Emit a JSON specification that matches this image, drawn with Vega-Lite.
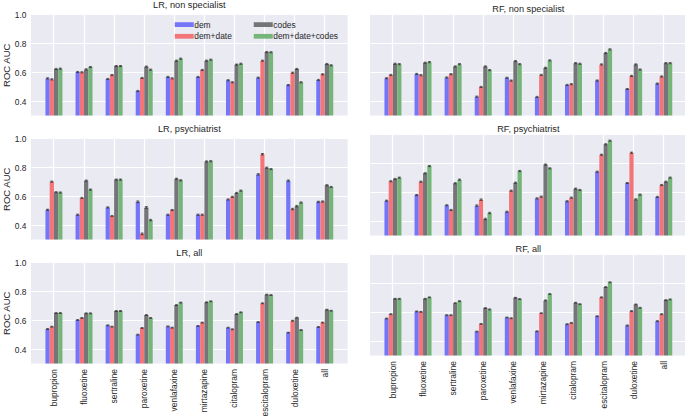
{
  "$schema": "https://vega.github.io/schema/vega-lite/v6.json",
  "padding": {"left": 1, "top": -3, "right": 0, "bottom": 0},
  "datasets": {
    "LR_ns": [
      {"drug":"bupropion","features":"dem","auc":0.556,"err":0.004},{"drug":"bupropion","features":"dem+date","auc":0.549,"err":0.004},{"drug":"bupropion","features":"codes","auc":0.621,"err":0.004},{"drug":"bupropion","features":"dem+date+codes","auc":0.623,"err":0.004},
      {"drug":"fluoxetine","features":"dem","auc":0.600,"err":0.004},{"drug":"fluoxetine","features":"dem+date","auc":0.598,"err":0.004},{"drug":"fluoxetine","features":"codes","auc":0.618,"err":0.004},{"drug":"fluoxetine","features":"dem+date+codes","auc":0.634,"err":0.004},
      {"drug":"sertraline","features":"dem","auc":0.552,"err":0.004},{"drug":"sertraline","features":"dem+date","auc":0.579,"err":0.004},{"drug":"sertraline","features":"codes","auc":0.641,"err":0.004},{"drug":"sertraline","features":"dem+date+codes","auc":0.641,"err":0.004},
      {"drug":"paroxetine","features":"dem","auc":0.469,"err":0.004},{"drug":"paroxetine","features":"dem+date","auc":0.559,"err":0.004},{"drug":"paroxetine","features":"codes","auc":0.637,"err":0.004},{"drug":"paroxetine","features":"dem+date+codes","auc":0.616,"err":0.004},
      {"drug":"venlafaxine","features":"dem","auc":0.566,"err":0.004},{"drug":"venlafaxine","features":"dem+date","auc":0.556,"err":0.004},{"drug":"venlafaxine","features":"codes","auc":0.678,"err":0.004},{"drug":"venlafaxine","features":"dem+date+codes","auc":0.692,"err":0.004},
      {"drug":"mirtazapine","features":"dem","auc":0.566,"err":0.004},{"drug":"mirtazapine","features":"dem+date","auc":0.614,"err":0.004},{"drug":"mirtazapine","features":"codes","auc":0.678,"err":0.004},{"drug":"mirtazapine","features":"dem+date+codes","auc":0.685,"err":0.004},
      {"drug":"citalopram","features":"dem","auc":0.543,"err":0.004},{"drug":"citalopram","features":"dem+date","auc":0.529,"err":0.004},{"drug":"citalopram","features":"codes","auc":0.651,"err":0.004},{"drug":"citalopram","features":"dem+date+codes","auc":0.657,"err":0.004},
      {"drug":"escitalopram","features":"dem","auc":0.561,"err":0.004},{"drug":"escitalopram","features":"dem+date","auc":0.678,"err":0.004},{"drug":"escitalopram","features":"codes","auc":0.738,"err":0.004},{"drug":"escitalopram","features":"dem+date+codes","auc":0.736,"err":0.004},
      {"drug":"duloxetine","features":"dem","auc":0.510,"err":0.004},{"drug":"duloxetine","features":"dem+date","auc":0.595,"err":0.004},{"drug":"duloxetine","features":"codes","auc":0.621,"err":0.004},{"drug":"duloxetine","features":"dem+date+codes","auc":0.529,"err":0.004},
      {"drug":"all","features":"dem","auc":0.545,"err":0.004},{"drug":"all","features":"dem+date","auc":0.584,"err":0.004},{"drug":"all","features":"codes","auc":0.655,"err":0.004},{"drug":"all","features":"dem+date+codes","auc":0.646,"err":0.004}
    ],
    "LR_psy": [
      {"drug":"bupropion","features":"dem","auc":0.505,"err":0.004},{"drug":"bupropion","features":"dem+date","auc":0.699,"err":0.004},{"drug":"bupropion","features":"codes","auc":0.626,"err":0.004},{"drug":"bupropion","features":"dem+date+codes","auc":0.624,"err":0.004},
      {"drug":"fluoxetine","features":"dem","auc":0.471,"err":0.004},{"drug":"fluoxetine","features":"dem+date","auc":0.587,"err":0.004},{"drug":"fluoxetine","features":"codes","auc":0.706,"err":0.004},{"drug":"fluoxetine","features":"dem+date+codes","auc":0.644,"err":0.004},
      {"drug":"sertraline","features":"dem","auc":0.521,"err":0.004},{"drug":"sertraline","features":"dem+date","auc":0.462,"err":0.004},{"drug":"sertraline","features":"codes","auc":0.713,"err":0.004},{"drug":"sertraline","features":"dem+date+codes","auc":0.713,"err":0.004},
      {"drug":"paroxetine","features":"dem","auc":0.560,"err":0.006},{"drug":"paroxetine","features":"dem+date","auc":0.339,"err":0.006},{"drug":"paroxetine","features":"codes","auc":0.521,"err":0.006},{"drug":"paroxetine","features":"dem+date+codes","auc":0.434,"err":0.005},
      {"drug":"venlafaxine","features":"dem","auc":0.471,"err":0.004},{"drug":"venlafaxine","features":"dem+date","auc":0.503,"err":0.004},{"drug":"venlafaxine","features":"codes","auc":0.719,"err":0.004},{"drug":"venlafaxine","features":"dem+date+codes","auc":0.708,"err":0.004},
      {"drug":"mirtazapine","features":"dem","auc":0.471,"err":0.004},{"drug":"mirtazapine","features":"dem+date","auc":0.471,"err":0.004},{"drug":"mirtazapine","features":"codes","auc":0.838,"err":0.004},{"drug":"mirtazapine","features":"dem+date+codes","auc":0.840,"err":0.004},
      {"drug":"citalopram","features":"dem","auc":0.576,"err":0.004},{"drug":"citalopram","features":"dem+date","auc":0.594,"err":0.004},{"drug":"citalopram","features":"codes","auc":0.621,"err":0.004},{"drug":"citalopram","features":"dem+date+codes","auc":0.637,"err":0.004},
      {"drug":"escitalopram","features":"dem","auc":0.749,"err":0.005},{"drug":"escitalopram","features":"dem+date","auc":0.888,"err":0.005},{"drug":"escitalopram","features":"codes","auc":0.795,"err":0.004},{"drug":"escitalopram","features":"dem+date+codes","auc":0.786,"err":0.004},
      {"drug":"duloxetine","features":"dem","auc":0.706,"err":0.005},{"drug":"duloxetine","features":"dem+date","auc":0.510,"err":0.005},{"drug":"duloxetine","features":"codes","auc":0.530,"err":0.005},{"drug":"duloxetine","features":"dem+date+codes","auc":0.555,"err":0.004},
      {"drug":"all","features":"dem","auc":0.560,"err":0.004},{"drug":"all","features":"dem+date","auc":0.562,"err":0.004},{"drug":"all","features":"codes","auc":0.674,"err":0.004},{"drug":"all","features":"dem+date+codes","auc":0.662,"err":0.004}
    ],
    "LR_all": [
      {"drug":"bupropion","features":"dem","auc":0.538,"err":0.003},{"drug":"bupropion","features":"dem+date","auc":0.554,"err":0.003},{"drug":"bupropion","features":"codes","auc":0.648,"err":0.003},{"drug":"bupropion","features":"dem+date+codes","auc":0.648,"err":0.003},
      {"drug":"fluoxetine","features":"dem","auc":0.600,"err":0.003},{"drug":"fluoxetine","features":"dem+date","auc":0.614,"err":0.003},{"drug":"fluoxetine","features":"codes","auc":0.646,"err":0.003},{"drug":"fluoxetine","features":"dem+date+codes","auc":0.646,"err":0.003},
      {"drug":"sertraline","features":"dem","auc":0.563,"err":0.003},{"drug":"sertraline","features":"dem+date","auc":0.554,"err":0.003},{"drug":"sertraline","features":"codes","auc":0.662,"err":0.003},{"drug":"sertraline","features":"dem+date+codes","auc":0.662,"err":0.003},
      {"drug":"paroxetine","features":"dem","auc":0.499,"err":0.003},{"drug":"paroxetine","features":"dem+date","auc":0.545,"err":0.003},{"drug":"paroxetine","features":"codes","auc":0.634,"err":0.003},{"drug":"paroxetine","features":"dem+date+codes","auc":0.614,"err":0.003},
      {"drug":"venlafaxine","features":"dem","auc":0.556,"err":0.003},{"drug":"venlafaxine","features":"dem+date","auc":0.547,"err":0.003},{"drug":"venlafaxine","features":"codes","auc":0.703,"err":0.003},{"drug":"venlafaxine","features":"dem+date+codes","auc":0.720,"err":0.003},
      {"drug":"mirtazapine","features":"dem","auc":0.559,"err":0.003},{"drug":"mirtazapine","features":"dem+date","auc":0.582,"err":0.003},{"drug":"mirtazapine","features":"codes","auc":0.722,"err":0.003},{"drug":"mirtazapine","features":"dem+date+codes","auc":0.729,"err":0.003},
      {"drug":"citalopram","features":"dem","auc":0.547,"err":0.003},{"drug":"citalopram","features":"dem+date","auc":0.536,"err":0.003},{"drug":"citalopram","features":"codes","auc":0.641,"err":0.003},{"drug":"citalopram","features":"dem+date+codes","auc":0.653,"err":0.003},
      {"drug":"escitalopram","features":"dem","auc":0.586,"err":0.003},{"drug":"escitalopram","features":"dem+date","auc":0.715,"err":0.003},{"drug":"escitalopram","features":"codes","auc":0.775,"err":0.003},{"drug":"escitalopram","features":"dem+date+codes","auc":0.772,"err":0.003},
      {"drug":"duloxetine","features":"dem","auc":0.513,"err":0.003},{"drug":"duloxetine","features":"dem+date","auc":0.595,"err":0.003},{"drug":"duloxetine","features":"codes","auc":0.616,"err":0.003},{"drug":"duloxetine","features":"dem+date+codes","auc":0.531,"err":0.003},
      {"drug":"all","features":"dem","auc":0.552,"err":0.003},{"drug":"all","features":"dem+date","auc":0.582,"err":0.003},{"drug":"all","features":"codes","auc":0.671,"err":0.003},{"drug":"all","features":"dem+date+codes","auc":0.664,"err":0.003}
    ],
    "RF_ns": [
      {"drug":"bupropion","features":"dem","auc":0.557,"err":0.004},{"drug":"bupropion","features":"dem+date","auc":0.580,"err":0.004},{"drug":"bupropion","features":"codes","auc":0.657,"err":0.004},{"drug":"bupropion","features":"dem+date+codes","auc":0.654,"err":0.004},
      {"drug":"fluoxetine","features":"dem","auc":0.587,"err":0.004},{"drug":"fluoxetine","features":"dem+date","auc":0.578,"err":0.004},{"drug":"fluoxetine","features":"codes","auc":0.664,"err":0.004},{"drug":"fluoxetine","features":"dem+date+codes","auc":0.668,"err":0.004},
      {"drug":"sertraline","features":"dem","auc":0.562,"err":0.004},{"drug":"sertraline","features":"dem+date","auc":0.585,"err":0.004},{"drug":"sertraline","features":"codes","auc":0.638,"err":0.004},{"drug":"sertraline","features":"dem+date+codes","auc":0.654,"err":0.004},
      {"drug":"paroxetine","features":"dem","auc":0.430,"err":0.004},{"drug":"paroxetine","features":"dem+date","auc":0.497,"err":0.004},{"drug":"paroxetine","features":"codes","auc":0.638,"err":0.004},{"drug":"paroxetine","features":"dem+date+codes","auc":0.613,"err":0.004},
      {"drug":"venlafaxine","features":"dem","auc":0.560,"err":0.004},{"drug":"venlafaxine","features":"dem+date","auc":0.541,"err":0.004},{"drug":"venlafaxine","features":"codes","auc":0.675,"err":0.004},{"drug":"venlafaxine","features":"dem+date+codes","auc":0.654,"err":0.004},
      {"drug":"mirtazapine","features":"dem","auc":0.428,"err":0.004},{"drug":"mirtazapine","features":"dem+date","auc":0.580,"err":0.004},{"drug":"mirtazapine","features":"codes","auc":0.629,"err":0.004},{"drug":"mirtazapine","features":"dem+date+codes","auc":0.680,"err":0.004},
      {"drug":"citalopram","features":"dem","auc":0.511,"err":0.004},{"drug":"citalopram","features":"dem+date","auc":0.516,"err":0.004},{"drug":"citalopram","features":"codes","auc":0.661,"err":0.004},{"drug":"citalopram","features":"dem+date+codes","auc":0.657,"err":0.004},
      {"drug":"escitalopram","features":"dem","auc":0.541,"err":0.004},{"drug":"escitalopram","features":"dem+date","auc":0.652,"err":0.004},{"drug":"escitalopram","features":"codes","auc":0.731,"err":0.004},{"drug":"escitalopram","features":"dem+date+codes","auc":0.756,"err":0.004},
      {"drug":"duloxetine","features":"dem","auc":0.483,"err":0.004},{"drug":"duloxetine","features":"dem+date","auc":0.573,"err":0.004},{"drug":"duloxetine","features":"codes","auc":0.652,"err":0.004},{"drug":"duloxetine","features":"dem+date+codes","auc":0.617,"err":0.004},
      {"drug":"all","features":"dem","auc":0.520,"err":0.004},{"drug":"all","features":"dem+date","auc":0.569,"err":0.004},{"drug":"all","features":"codes","auc":0.661,"err":0.004},{"drug":"all","features":"dem+date+codes","auc":0.661,"err":0.004}
    ],
    "RF_psy": [
      {"drug":"bupropion","features":"dem","auc":0.540,"err":0.004},{"drug":"bupropion","features":"dem+date","auc":0.674,"err":0.004},{"drug":"bupropion","features":"codes","auc":0.690,"err":0.004},{"drug":"bupropion","features":"dem+date+codes","auc":0.699,"err":0.004},
      {"drug":"fluoxetine","features":"dem","auc":0.579,"err":0.004},{"drug":"fluoxetine","features":"dem+date","auc":0.671,"err":0.004},{"drug":"fluoxetine","features":"codes","auc":0.729,"err":0.004},{"drug":"fluoxetine","features":"dem+date+codes","auc":0.779,"err":0.004},
      {"drug":"sertraline","features":"dem","auc":0.508,"err":0.004},{"drug":"sertraline","features":"dem+date","auc":0.476,"err":0.004},{"drug":"sertraline","features":"codes","auc":0.660,"err":0.004},{"drug":"sertraline","features":"dem+date+codes","auc":0.685,"err":0.004},
      {"drug":"paroxetine","features":"dem","auc":0.506,"err":0.005},{"drug":"paroxetine","features":"dem+date","auc":0.547,"err":0.005},{"drug":"paroxetine","features":"codes","auc":0.414,"err":0.005},{"drug":"paroxetine","features":"dem+date+codes","auc":0.455,"err":0.005},
      {"drug":"venlafaxine","features":"dem","auc":0.464,"err":0.004},{"drug":"venlafaxine","features":"dem+date","auc":0.609,"err":0.004},{"drug":"venlafaxine","features":"codes","auc":0.664,"err":0.004},{"drug":"venlafaxine","features":"dem+date+codes","auc":0.745,"err":0.004},
      {"drug":"mirtazapine","features":"dem","auc":0.556,"err":0.004},{"drug":"mirtazapine","features":"dem+date","auc":0.568,"err":0.004},{"drug":"mirtazapine","features":"codes","auc":0.789,"err":0.004},{"drug":"mirtazapine","features":"dem+date+codes","auc":0.763,"err":0.004},
      {"drug":"citalopram","features":"dem","auc":0.536,"err":0.004},{"drug":"citalopram","features":"dem+date","auc":0.561,"err":0.004},{"drug":"citalopram","features":"codes","auc":0.623,"err":0.004},{"drug":"citalopram","features":"dem+date+codes","auc":0.614,"err":0.004},
      {"drug":"escitalopram","features":"dem","auc":0.740,"err":0.004},{"drug":"escitalopram","features":"dem+date","auc":0.857,"err":0.004},{"drug":"escitalopram","features":"codes","auc":0.929,"err":0.004},{"drug":"escitalopram","features":"dem+date+codes","auc":0.954,"err":0.004},
      {"drug":"duloxetine","features":"dem","auc":0.662,"err":0.004},{"drug":"duloxetine","features":"dem+date","auc":0.871,"err":0.004},{"drug":"duloxetine","features":"codes","auc":0.549,"err":0.004},{"drug":"duloxetine","features":"dem+date+codes","auc":0.582,"err":0.004},
      {"drug":"all","features":"dem","auc":0.566,"err":0.004},{"drug":"all","features":"dem+date","auc":0.648,"err":0.004},{"drug":"all","features":"codes","auc":0.671,"err":0.004},{"drug":"all","features":"dem+date+codes","auc":0.699,"err":0.004}
    ],
    "RF_all": [
      {"drug":"bupropion","features":"dem","auc":0.555,"err":0.003},{"drug":"bupropion","features":"dem+date","auc":0.585,"err":0.003},{"drug":"bupropion","features":"codes","auc":0.691,"err":0.003},{"drug":"bupropion","features":"dem+date+codes","auc":0.691,"err":0.003},
      {"drug":"fluoxetine","features":"dem","auc":0.604,"err":0.003},{"drug":"fluoxetine","features":"dem+date","auc":0.601,"err":0.003},{"drug":"fluoxetine","features":"codes","auc":0.691,"err":0.003},{"drug":"fluoxetine","features":"dem+date+codes","auc":0.701,"err":0.003},
      {"drug":"sertraline","features":"dem","auc":0.578,"err":0.003},{"drug":"sertraline","features":"dem+date","auc":0.578,"err":0.003},{"drug":"sertraline","features":"codes","auc":0.661,"err":0.003},{"drug":"sertraline","features":"dem+date+codes","auc":0.675,"err":0.003},
      {"drug":"paroxetine","features":"dem","auc":0.465,"err":0.003},{"drug":"paroxetine","features":"dem+date","auc":0.518,"err":0.003},{"drug":"paroxetine","features":"codes","auc":0.627,"err":0.003},{"drug":"paroxetine","features":"dem+date+codes","auc":0.618,"err":0.003},
      {"drug":"venlafaxine","features":"dem","auc":0.562,"err":0.003},{"drug":"venlafaxine","features":"dem+date","auc":0.557,"err":0.003},{"drug":"venlafaxine","features":"codes","auc":0.698,"err":0.003},{"drug":"venlafaxine","features":"dem+date+codes","auc":0.689,"err":0.003},
      {"drug":"mirtazapine","features":"dem","auc":0.467,"err":0.003},{"drug":"mirtazapine","features":"dem+date","auc":0.592,"err":0.003},{"drug":"mirtazapine","features":"codes","auc":0.680,"err":0.003},{"drug":"mirtazapine","features":"dem+date+codes","auc":0.724,"err":0.003},
      {"drug":"citalopram","features":"dem","auc":0.516,"err":0.003},{"drug":"citalopram","features":"dem+date","auc":0.525,"err":0.003},{"drug":"citalopram","features":"codes","auc":0.664,"err":0.003},{"drug":"citalopram","features":"dem+date+codes","auc":0.654,"err":0.003},
      {"drug":"escitalopram","features":"dem","auc":0.571,"err":0.003},{"drug":"escitalopram","features":"dem+date","auc":0.701,"err":0.003},{"drug":"escitalopram","features":"codes","auc":0.772,"err":0.003},{"drug":"escitalopram","features":"dem+date+codes","auc":0.805,"err":0.003},
      {"drug":"duloxetine","features":"dem","auc":0.507,"err":0.003},{"drug":"duloxetine","features":"dem+date","auc":0.606,"err":0.003},{"drug":"duloxetine","features":"codes","auc":0.652,"err":0.003},{"drug":"duloxetine","features":"dem+date+codes","auc":0.629,"err":0.003},
      {"drug":"all","features":"dem","auc":0.537,"err":0.003},{"drug":"all","features":"dem+date","auc":0.585,"err":0.003},{"drug":"all","features":"codes","auc":0.682,"err":0.003},{"drug":"all","features":"dem+date+codes","auc":0.687,"err":0.003}
    ]
  },
  "hconcat": [
    {
      "spacing": 8,
      "vconcat": [
        {
          "data": {"name": "LR_ns"},
          "title": {"text": "LR, non specialist", "fontWeight": "normal", "fontSize": 9.2, "offset": 0},
          "width": 316.7, "height": 101.5,
          "encoding": {
            "x": {"field": "drug", "type": "nominal", "sort": ["bupropion","fluoxetine","sertraline","paroxetine","venlafaxine","mirtazapine","citalopram","escitalopram","duloxetine","all"], "scale": {"paddingInner": 0.435, "paddingOuter": 0.48}, "axis": {"labels": false, "title": null, "bandPosition": 0.5}},
            "xOffset": {"field": "features", "sort": ["dem","dem+date","codes","dem+date+codes"], "scale": {"paddingInner": 0, "paddingOuter": 0}},
            "y": {"field": "auc", "type": "quantitative", "scale": {"domain": [0.3, 1.0]}, "axis": {"values": [0.4, 0.6, 0.8, 1.0], "format": ".1f", "title": "ROC AUC"}}
          },
          "layer": [
            {"mark": {"type": "bar", "clip": true}, "encoding": {"color": {"field": "features", "type": "nominal", "scale": {"domain": ["dem","dem+date","codes","dem+date+codes"], "range": ["#7575f8","#f47579","#757579","#75b579"]}, "legend": {"orient": "none", "legendX": 143.5, "legendY": 5.3, "columns": 2, "title": null, "padding": 0, "symbolType": "M-1,-0.5H3V0.5H-1Z", "symbolSize": 90.25, "symbolStrokeWidth": 0, "symbolOpacity": 1, "labelFontSize": 8.4, "labelOffset": 9.8, "columnPadding": 21, "rowPadding": 2}}}},
            {"mark": {"type": "errorbar", "ticks": true, "color": "#333333"}, "encoding": {"yError": {"field": "err"}}}
          ]
        },
        {
          "data": {"name": "LR_psy"},
          "title": {"text": "LR, psychiatrist", "fontWeight": "normal", "fontSize": 9.2, "offset": 0},
          "width": 316.7, "height": 101.5,
          "encoding": {
            "x": {"field": "drug", "type": "nominal", "sort": ["bupropion","fluoxetine","sertraline","paroxetine","venlafaxine","mirtazapine","citalopram","escitalopram","duloxetine","all"], "scale": {"paddingInner": 0.435, "paddingOuter": 0.48}, "axis": {"labels": false, "title": null, "bandPosition": 0.5}},
            "xOffset": {"field": "features", "sort": ["dem","dem+date","codes","dem+date+codes"], "scale": {"paddingInner": 0, "paddingOuter": 0}},
            "y": {"field": "auc", "type": "quantitative", "scale": {"domain": [0.3, 1.0]}, "axis": {"values": [0.4, 0.6, 0.8, 1.0], "format": ".1f", "title": "ROC AUC"}}
          },
          "layer": [
            {"mark": {"type": "bar", "clip": true}, "encoding": {"color": {"field": "features", "type": "nominal"}}},
            {"mark": {"type": "errorbar", "ticks": true, "color": "#333333"}, "encoding": {"yError": {"field": "err"}}}
          ]
        },
        {
          "data": {"name": "LR_all"},
          "title": {"text": "LR, all", "fontWeight": "normal", "fontSize": 9.2, "offset": 0},
          "width": 316.7, "height": 101.5,
          "encoding": {
            "x": {"field": "drug", "type": "nominal", "sort": ["bupropion","fluoxetine","sertraline","paroxetine","venlafaxine","mirtazapine","citalopram","escitalopram","duloxetine","all"], "scale": {"paddingInner": 0.435, "paddingOuter": 0.48}, "axis": {"labelAngle": -90, "labelPadding": 5, "title": null, "bandPosition": 0.5}},
            "xOffset": {"field": "features", "sort": ["dem","dem+date","codes","dem+date+codes"], "scale": {"paddingInner": 0, "paddingOuter": 0}},
            "y": {"field": "auc", "type": "quantitative", "scale": {"domain": [0.3, 1.0]}, "axis": {"values": [0.4, 0.6, 0.8, 1.0], "format": ".1f", "title": "ROC AUC"}}
          },
          "layer": [
            {"mark": {"type": "bar", "clip": true}, "encoding": {"color": {"field": "features", "type": "nominal"}}},
            {"mark": {"type": "errorbar", "ticks": true, "color": "#333333"}, "encoding": {"yError": {"field": "err"}}}
          ]
        }
      ]
    },
    {
      "spacing": 8,
      "title": {"text": " ", "fontSize": 7, "offset": 0},
      "vconcat": [
        {
          "data": {"name": "RF_ns"},
          "title": {"text": "RF, non specialist", "fontWeight": "normal", "fontSize": 9.2, "offset": 0},
          "width": 316.7, "height": 101.5,
          "encoding": {
            "x": {"field": "drug", "type": "nominal", "sort": ["bupropion","fluoxetine","sertraline","paroxetine","venlafaxine","mirtazapine","citalopram","escitalopram","duloxetine","all"], "scale": {"paddingInner": 0.435, "paddingOuter": 0.48}, "axis": {"labels": false, "title": null, "bandPosition": 0.5}},
            "xOffset": {"field": "features", "sort": ["dem","dem+date","codes","dem+date+codes"], "scale": {"paddingInner": 0, "paddingOuter": 0}},
            "y": {"field": "auc", "type": "quantitative", "scale": {"domain": [0.3, 1.0]}, "axis": {"values": [0.4, 0.6, 0.8, 1.0], "labels": false, "title": null}}
          },
          "layer": [
            {"mark": {"type": "bar", "clip": true}, "encoding": {"color": {"field": "features", "type": "nominal"}}},
            {"mark": {"type": "errorbar", "ticks": true, "color": "#333333"}, "encoding": {"yError": {"field": "err"}}}
          ]
        },
        {
          "data": {"name": "RF_psy"},
          "title": {"text": "RF, psychiatrist", "fontWeight": "normal", "fontSize": 9.2, "offset": 0},
          "width": 316.7, "height": 101.5,
          "encoding": {
            "x": {"field": "drug", "type": "nominal", "sort": ["bupropion","fluoxetine","sertraline","paroxetine","venlafaxine","mirtazapine","citalopram","escitalopram","duloxetine","all"], "scale": {"paddingInner": 0.435, "paddingOuter": 0.48}, "axis": {"labels": false, "title": null, "bandPosition": 0.5}},
            "xOffset": {"field": "features", "sort": ["dem","dem+date","codes","dem+date+codes"], "scale": {"paddingInner": 0, "paddingOuter": 0}},
            "y": {"field": "auc", "type": "quantitative", "scale": {"domain": [0.3, 1.0]}, "axis": {"values": [0.4, 0.6, 0.8, 1.0], "labels": false, "title": null}}
          },
          "layer": [
            {"mark": {"type": "bar", "clip": true}, "encoding": {"color": {"field": "features", "type": "nominal"}}},
            {"mark": {"type": "errorbar", "ticks": true, "color": "#333333"}, "encoding": {"yError": {"field": "err"}}}
          ]
        },
        {
          "data": {"name": "RF_all"},
          "title": {"text": "RF, all", "fontWeight": "normal", "fontSize": 9.2, "offset": 0},
          "width": 316.7, "height": 101.5,
          "encoding": {
            "x": {"field": "drug", "type": "nominal", "sort": ["bupropion","fluoxetine","sertraline","paroxetine","venlafaxine","mirtazapine","citalopram","escitalopram","duloxetine","all"], "scale": {"paddingInner": 0.435, "paddingOuter": 0.48}, "axis": {"labelAngle": -90, "labelPadding": 5, "title": null, "bandPosition": 0.5}},
            "xOffset": {"field": "features", "sort": ["dem","dem+date","codes","dem+date+codes"], "scale": {"paddingInner": 0, "paddingOuter": 0}},
            "y": {"field": "auc", "type": "quantitative", "scale": {"domain": [0.3, 1.0]}, "axis": {"values": [0.4, 0.6, 0.8, 1.0], "labels": false, "title": null}}
          },
          "layer": [
            {"mark": {"type": "bar", "clip": true}, "encoding": {"color": {"field": "features", "type": "nominal"}}},
            {"mark": {"type": "errorbar", "ticks": true, "color": "#333333"}, "encoding": {"yError": {"field": "err"}}}
          ]
        }
      ]
    }
  ],
  "spacing": 22,
  "config": {
    "font": "Liberation Sans",
    "view": {"fill": "#EAEAF2", "stroke": null},
    "axis": {"grid": true, "gridColor": "#ffffff", "gridWidth": 1.2, "domain": false, "ticks": false, "tickSize": 0, "labelFont": "Liberation Sans", "labelFontSize": 8.4, "labelColor": "#262626", "labelPadding": 5, "titleFont": "Liberation Sans", "titleFontSize": 9.5, "titleFontWeight": "normal", "titleColor": "#262626", "titlePadding": 3},
    "title": {"font": "Liberation Sans", "fontSize": 9.2, "fontWeight": "normal", "color": "#262626"},
    "style": {"group-title": {"font": "Liberation Sans", "fontSize": 9.2, "fontWeight": "normal", "fill": "#262626"}},
    "legend": {"labelFont": "Liberation Sans", "labelColor": "#262626"},
    "errorbar": {"ticks": {"size": 3}, "rule": {"strokeWidth": 1}}
  }
}
